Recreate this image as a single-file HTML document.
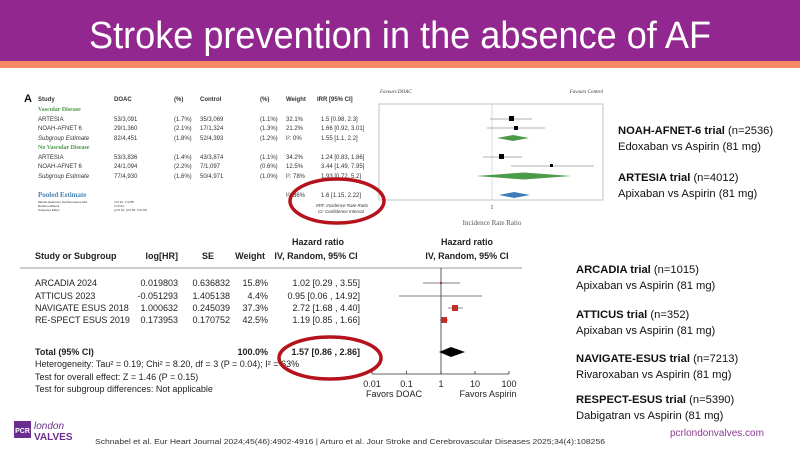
<!DOCTYPE html>
<html><head><meta charset="utf-8"><style>
html,body{margin:0;padding:0;background:#fff;width:800px;height:450px;overflow:hidden}
svg text{font-family:"Liberation Sans",sans-serif}
.s{font-family:"Liberation Serif",serif;font-size:6px;fill:#333}
.b{font-size:9px;fill:#222}
.r{font-size:11.2px;fill:#111}
</style></head><body>
<svg width="800" height="450" viewBox="0 0 800 450" xmlns="http://www.w3.org/2000/svg">
<rect x="0" y="0" width="800" height="61" fill="#92278f"/>
<rect x="0" y="61" width="800" height="7" fill="#f58a65"/>
<text x="400" y="48" text-anchor="middle" fill="#fff" font-size="38" textLength="622" lengthAdjust="spacingAndGlyphs">Stroke prevention in the absence of AF</text>

<!-- Top table -->
<text x="24" y="102" font-size="11" font-weight="bold" fill="#111">A</text>
<g class="s" font-weight="bold">
<text x="38" y="101" font-weight="bold">Study</text><text x="114" y="101" font-weight="bold">DOAC</text><text x="174" y="101" font-weight="bold">(%)</text><text x="200" y="101" font-weight="bold">Control</text><text x="260" y="101" font-weight="bold">(%)</text><text x="286" y="101" font-weight="bold">Weight</text><text x="317" y="101" font-weight="bold">IRR [95% CI]</text>
</g>
<text class="s" x="38" y="111" style="fill:#4a9a4a;font-weight:bold">Vascular Disease</text>
<g class="s">
<text x="38" y="121">ARTESIA</text><text x="114" y="121">53/3,091</text><text x="174" y="121">(1.7%)</text><text x="200" y="121">35/3,069</text><text x="260" y="121">(1.1%)</text><text x="286" y="121">32.1%</text><text x="321" y="121">1.5 [0.98, 2.3]</text>
<text x="38" y="130">NOAH-AFNET 6</text><text x="114" y="130">29/1,360</text><text x="174" y="130">(2.1%)</text><text x="200" y="130">17/1,324</text><text x="260" y="130">(1.3%)</text><text x="286" y="130">21.2%</text><text x="321" y="130">1.66 [0.92, 3.01]</text>
<text x="38" y="140" font-style="italic">Subgroup Estimate</text><text x="114" y="140">82/4,451</text><text x="174" y="140">(1.8%)</text><text x="200" y="140">52/4,393</text><text x="260" y="140">(1.2%)</text><text x="286" y="140">I²: 0%</text><text x="321" y="140">1.55 [1.1, 2.2]</text>
</g>
<text class="s" x="38" y="149" style="fill:#4a9a4a;font-weight:bold">No Vascular Disease</text>
<g class="s">
<text x="38" y="159">ARTESIA</text><text x="114" y="159">53/3,836</text><text x="174" y="159">(1.4%)</text><text x="200" y="159">43/3,874</text><text x="260" y="159">(1.1%)</text><text x="286" y="159">34.2%</text><text x="321" y="159">1.24 [0.83, 1.86]</text>
<text x="38" y="168">NOAH-AFNET 6</text><text x="114" y="168">24/1,094</text><text x="174" y="168">(2.2%)</text><text x="200" y="168">7/1,097</text><text x="260" y="168">(0.6%)</text><text x="286" y="168">12.5%</text><text x="321" y="168">3.44 [1.49, 7.95]</text>
<text x="38" y="178" font-style="italic">Subgroup Estimate</text><text x="114" y="178">77/4,930</text><text x="174" y="178">(1.6%)</text><text x="200" y="178">50/4,971</text><text x="260" y="178">(1.0%)</text><text x="286" y="178">I²: 78%</text><text x="321" y="178">1.93 [0.72, 5.2]</text>
<text x="286" y="197">I²: 36%</text><text x="321" y="197">1.6 [1.15, 2.22]</text>
<text x="316" y="207" font-size="4.5" font-style="italic">IRR: Incidence Rate Ratio</text>
<text x="318" y="213" font-size="4.5" font-style="italic">CI: Confidence Interval</text>
</g>
<text class="s" x="38" y="197" style="fill:#4a7fb0;font-weight:bold;font-size:7px">Pooled Estimate</text>
<g class="s" style="font-size:3px">
<text x="38" y="203">Mantel-Haenszel, DerSimonian-Laird</text><text x="38" y="207">Random Effects</text><text x="38" y="211">Subgroup Effect</text>
<text x="114" y="203">z=2.91, z=2.88</text><text x="114" y="207">τ²=0.04</text><text x="114" y="211">χ²=0.16, p=0.69, I²=0.0%</text>
</g>
<!-- Top plot -->
<text class="s" x="380" y="93" font-style="italic" style="font-size:5px">Favours DOAC</text>
<text class="s" x="603" y="93" text-anchor="end" font-style="italic" style="font-size:5px">Favours Control</text>
<rect x="379" y="104" width="224" height="96" fill="none" stroke="#aaa" stroke-width="0.7"/>
<line x1="492" y1="104" x2="492" y2="200" stroke="#ccc" stroke-width="0.7"/>
<text class="s" x="492" y="209" text-anchor="middle">1</text>
<text class="s" x="492" y="225" text-anchor="middle" style="font-size:7px;fill:#555">Incidence Rate Ratio</text>
<g stroke="#999" stroke-width="0.7">
<line x1="490" y1="119" x2="532" y2="119"/><line x1="487" y1="128" x2="545" y2="128"/>
<line x1="483" y1="157" x2="522" y2="157"/><line x1="511" y1="166" x2="594" y2="166"/>
</g>
<rect x="509" y="116" width="5" height="5" fill="#000"/>
<rect x="514" y="126" width="4" height="4" fill="#000"/>
<rect x="499" y="154" width="5" height="5" fill="#000"/>
<rect x="550" y="164" width="3" height="3" fill="#000"/>
<polygon points="497,138 513,135 529,138 513,141" fill="#4a9a4a"/>
<polygon points="476,176 524,172.5 571,176 524,179.5" fill="#4a9a4a"/>
<polygon points="499,195 514,192 530,195 514,198" fill="#3d7cb8"/>
<ellipse cx="337" cy="201" rx="47" ry="22" fill="none" stroke="#b5121b" stroke-width="3.5"/>

<!-- Bottom table -->
<g class="b" font-weight="bold">
<text x="318" y="245" text-anchor="middle" font-weight="bold">Hazard ratio</text>
<text x="467" y="245" text-anchor="middle" font-weight="bold">Hazard ratio</text>
<text x="35" y="259" font-weight="bold">Study or Subgroup</text>
<text x="178" y="259" text-anchor="end" font-weight="bold">log[HR]</text>
<text x="208" y="259" text-anchor="middle" font-weight="bold">SE</text>
<text x="265" y="259" text-anchor="end" font-weight="bold">Weight</text>
<text x="316" y="259" text-anchor="middle" font-weight="bold">IV, Random, 95% CI</text>
<text x="467" y="259" text-anchor="middle" font-weight="bold">IV, Random, 95% CI</text>
</g>
<line x1="20" y1="268" x2="522" y2="268" stroke="#777" stroke-width="0.8"/>
<g class="b">
<text x="35" y="286">ARCADIA 2024</text><text x="178" y="286" text-anchor="end">0.019803</text><text x="230" y="286" text-anchor="end">0.636832</text><text x="268" y="286" text-anchor="end">15.8%</text><text x="360" y="286" text-anchor="end">1.02 [0.29 , 3.55]</text>
<text x="35" y="299">ATTICUS 2023</text><text x="178" y="299" text-anchor="end">-0.051293</text><text x="230" y="299" text-anchor="end">1.405138</text><text x="268" y="299" text-anchor="end">4.4%</text><text x="360" y="299" text-anchor="end">0.95 [0.06 , 14.92]</text>
<text x="35" y="311">NAVIGATE ESUS 2018</text><text x="178" y="311" text-anchor="end">1.000632</text><text x="230" y="311" text-anchor="end">0.245039</text><text x="268" y="311" text-anchor="end">37.3%</text><text x="360" y="311" text-anchor="end">2.72 [1.68 , 4.40]</text>
<text x="35" y="323">RE-SPECT ESUS 2019</text><text x="178" y="323" text-anchor="end">0.173953</text><text x="230" y="323" text-anchor="end">0.170752</text><text x="268" y="323" text-anchor="end">42.5%</text><text x="360" y="323" text-anchor="end">1.19 [0.85 , 1.66]</text>
<text x="35" y="355" font-weight="bold">Total (95% CI)</text><text x="268" y="355" text-anchor="end" font-weight="bold">100.0%</text><text x="360" y="355" text-anchor="end" font-weight="bold">1.57 [0.86 , 2.86]</text>
<text x="35" y="367">Heterogeneity: Tau² = 0.19; Chi² = 8.20, df = 3 (P = 0.04); I² = 63%</text>
<text x="35" y="380">Test for overall effect: Z = 1.46 (P = 0.15)</text>
<text x="35" y="392">Test for subgroup differences: Not applicable</text>
<text x="372" y="387" text-anchor="middle">0.01</text><text x="406.5" y="387" text-anchor="middle">0.1</text><text x="441" y="387" text-anchor="middle">1</text><text x="475" y="387" text-anchor="middle">10</text><text x="509" y="387" text-anchor="middle">100</text>
<text x="394" y="397" text-anchor="middle">Favors DOAC</text><text x="488" y="397" text-anchor="middle">Favors Aspirin</text>
</g>
<line x1="441" y1="268" x2="441" y2="374" stroke="#333" stroke-width="0.8"/>
<line x1="372" y1="374" x2="509" y2="374" stroke="#333" stroke-width="0.8"/>
<g stroke="#333" stroke-width="0.8"><line x1="372" y1="371" x2="372" y2="374"/><line x1="406.5" y1="371" x2="406.5" y2="374"/><line x1="441" y1="371" x2="441" y2="374"/><line x1="475" y1="371" x2="475" y2="374"/><line x1="509" y1="371" x2="509" y2="374"/></g>
<g stroke="#555" stroke-width="0.7">
<line x1="423" y1="283" x2="460" y2="283"/><line x1="399" y1="296" x2="482" y2="296"/>
<line x1="448" y1="308" x2="463" y2="308"/><line x1="440" y1="320" x2="448" y2="320"/>
</g>
<rect x="440" y="282" width="2" height="2" fill="#c0302b"/>
<rect x="440.5" y="295.5" width="1" height="1" fill="#c0302b"/>
<rect x="452" y="305" width="6" height="6" fill="#c0302b"/>
<rect x="441" y="317" width="6" height="6" fill="#c0302b"/>
<polygon points="439,352 451,347 465,352 451,357" fill="#000"/>
<ellipse cx="330" cy="358" rx="51" ry="21" fill="none" stroke="#b5121b" stroke-width="3.5"/>

<!-- Right text -->
<g class="r">
<text x="618" y="134" font-weight="bold">NOAH-AFNET-6 trial <tspan font-weight="normal">(n=2536)</tspan></text>
<text x="618" y="150">Edoxaban vs Aspirin (81 mg)</text>
<text x="618" y="181" font-weight="bold">ARTESIA trial <tspan font-weight="normal">(n=4012)</tspan></text>
<text x="618" y="197">Apixaban vs Aspirin (81 mg)</text>
<text x="576" y="273" font-weight="bold">ARCADIA trial <tspan font-weight="normal">(n=1015)</tspan></text>
<text x="576" y="289">Apixaban vs Aspirin (81 mg)</text>
<text x="576" y="318" font-weight="bold">ATTICUS trial <tspan font-weight="normal">(n=352)</tspan></text>
<text x="576" y="334">Apixaban vs Aspirin (81 mg)</text>
<text x="576" y="362" font-weight="bold">NAVIGATE-ESUS trial <tspan font-weight="normal">(n=7213)</tspan></text>
<text x="576" y="378">Rivaroxaban vs Aspirin (81 mg)</text>
<text x="576" y="403" font-weight="bold">RESPECT-ESUS trial <tspan font-weight="normal">(n=5390)</tspan></text>
<text x="576" y="419">Dabigatran vs Aspirin (81 mg)</text>
</g>

<!-- Footer -->
<rect x="14" y="421" width="17" height="17" fill="#6b2c8f"/>
<text x="22.5" y="433" text-anchor="middle" fill="#fff" font-size="7" font-weight="bold">PCR</text>
<text x="34" y="429" fill="#6b2c8f" font-size="10" font-style="italic">london</text>
<text x="34" y="440" fill="#6b2c8f" font-size="10" font-weight="bold">VALVES</text>
<text x="95" y="444" fill="#333" font-size="7" textLength="510" lengthAdjust="spacingAndGlyphs">Schnabel et al. Eur Heart Journal 2024;45(46):4902-4916 | Arturo et al. Jour Stroke and Cerebrovascular Diseases 2025;34(4):108256</text>
<text x="670" y="436" fill="#8e3a96" font-size="10">pcrlondonvalves.com</text>
</svg>
</body></html>
